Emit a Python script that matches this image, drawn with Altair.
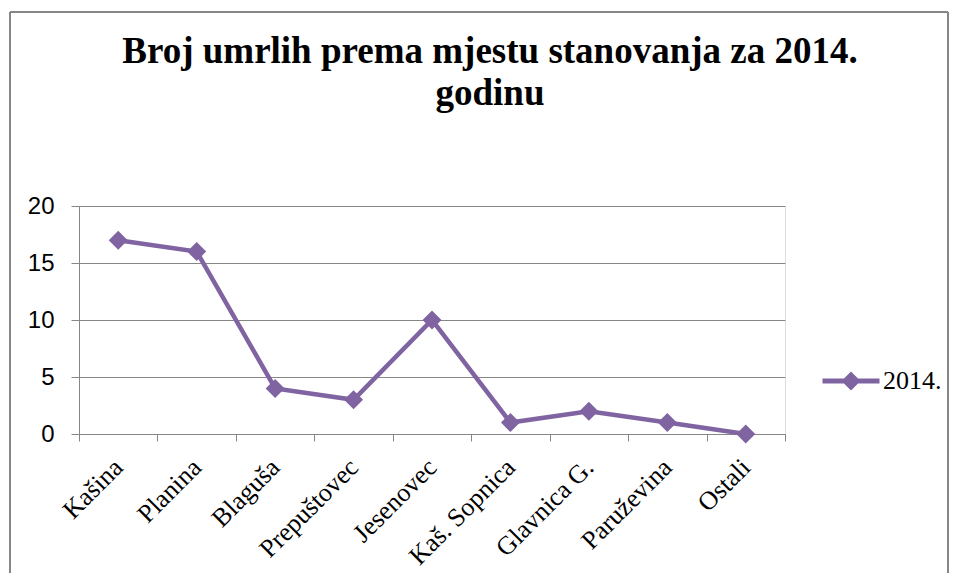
import altair as alt
import pandas as pd

categories = ["Kašina", "Planina", "Blaguša", "Prepuštovec", "Jesenovec",
              "Kaš. Sopnica", "Glavnica G.", "Paruževina", "Ostali"]
values_2014 = [17, 16, 4, 3, 10, 1, 2, 1, 0]
series_name = "2014."
title_lines = ["Broj umrlih prema mjestu stanovanja za 2014.", "godinu"]
y_ticks = [0, 5, 10, 15, 20]

df = pd.DataFrame({"mjesto": categories, "broj": values_2014,
                   "serija": [series_name] * len(categories)})

PURPLE = "#8064A2"
GRAY = "#868686"

legend_path = ("M-3,-0.26L-0.74,-0.26L0,-1L0.74,-0.26L3,-0.26L3,0.26L0.74,0.26"
               "L0,1L-0.74,0.26L-3,0.26Z")

x_enc = alt.X("mjesto:N", sort=categories, title=None,
              scale=alt.Scale(paddingInner=0, paddingOuter=0),
              axis=alt.Axis(labelAngle=-45, labelAlign="right", labelBaseline="middle",
                            labelFont="Liberation Serif", labelFontSize=26,
                            labelColor="black", labelPadding=22,
                            tickBand="extent", tickSize=7, tickColor=GRAY,
                            domainColor=GRAY, grid=False))
y_enc = alt.Y("broj:Q", title=None,
              scale=alt.Scale(domain=[0, 20], nice=False),
              axis=alt.Axis(values=y_ticks, labelFont="Liberation Sans",
                            labelFontSize=24, labelColor="black", labelPadding=17,
                            tickSize=8, tickColor=GRAY, domainColor=GRAY,
                            gridColor=GRAY, gridWidth=1))

base = alt.Chart(df)

line = base.mark_line(color=PURPLE, strokeWidth=4.5).encode(x=x_enc, y=y_enc)

points = base.mark_point(shape="diamond", size=361, filled=True, opacity=1).encode(
    x=x_enc, y=y_enc,
    color=alt.Color("serija:N", scale=alt.Scale(range=[PURPLE]),
                    legend=alt.Legend(title=None, orient="none", legendX=759, legendY=162,
                                      symbolType=legend_path, symbolSize=361,
                                      symbolStrokeWidth=0, labelOffset=19,
                                      labelFont="Liberation Serif", labelFontSize=26,
                                      labelColor="black", padding=0)))

frame = base.mark_rect(fill="transparent", stroke=GRAY, strokeWidth=1).encode(
    x=alt.value(-69), x2=alt.value(869), y=alt.value(-194), y2=alt.value(420))

chart = alt.layer(frame, line, points).properties(
    width=706, height=228,
    autosize="none",
    padding={"left": 71, "top": 198, "right": 164, "bottom": 139},
    title=alt.TitleParams(text=title_lines, font="Liberation Serif", fontSize=37,
                          fontWeight="bold", color="black", anchor="middle",
                          frame="group", dx=58, offset=-101, lineHeight=42),
).configure_view(stroke=None).configure(background="white")

chart.save("out.html", embed_options={"renderer": "svg", "actions": False})
